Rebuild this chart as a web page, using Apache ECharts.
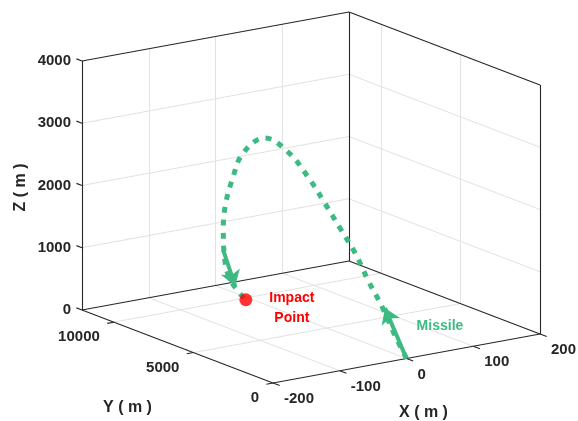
<!DOCTYPE html>
<html><head><meta charset="utf-8">
<script src="https://cdn.jsdelivr.net/npm/echarts@6/dist/echarts.min.js"></script>
<style>html,body{margin:0;padding:0;background:#fff}#c{width:578px;height:421px}</style>
</head><body><div id="c"></div>
<script>
// ---------------- data ----------------
const xTicks = [-200, -100, 0, 100, 200];
const yTicks = [0, 5000, 10000];
const zTicks = [0, 1000, 2000, 3000, 4000];
const xRange = [-200, 200];
const yRange = [0, 12000];
const zRange = [0, 4000];
const trajX = [0, -8, -15, -22, -27, -33, -39, -45, -56, -69, -80, -80, -76, -67, -56, -43, -24, -7];
const trajY = [0, 400, 900, 1500, 2100, 2800, 3500, 4300, 5100, 6000, 6900, 7600, 8200, 8700, 9100, 9400, 9650, 9800];
const trajZ = [0, 354, 770, 1158, 1543, 1888, 2232, 2584, 2929, 3092, 2786, 2283, 1799, 1347, 885, 508, 205, 0];
const arrowFrom = [[0, 0, 0], [-60, 9000, 980]];
const arrowTo = [[-12, 850, 750], [-29, 9550, 290]];
const impactPoint = [-7, 9800, 0];
const axisTitles = { x: 'X ( m )', y: 'Y ( m )', z: 'Z ( m )' };
const impactText = 'Impact\nPoint';
const missileText = 'Missile';

// ---------------- layout (3D box projection) ----------------
const W = 578, H = 421;
const O = [273, 383];           // screen point of (xmin, ymin, zmin)
const VX = [267, -49];          // screen vector for full x range
const VY = [-191, -73];         // screen vector for full y range
const VZ = [0, -249];           // screen vector for full z range
function proj(p) {
  const nx = (p[0] - xRange[0]) / (xRange[1] - xRange[0]);
  const ny = (p[1] - yRange[0]) / (yRange[1] - yRange[0]);
  const nz = (p[2] - zRange[0]) / (zRange[1] - zRange[0]);
  return [O[0] + nx * VX[0] + ny * VY[0] + nz * VZ[0],
          O[1] + nx * VX[1] + ny * VY[1] + nz * VZ[1]];
}
const [x0, x1] = xRange, [y0, y1] = yRange, [z0, z1] = zRange;
const seg = (a, b) => ({ coords: [proj(a), proj(b)] });
const inner = (t, r) => t.filter(v => v > r[0] && v < r[1]);

// grid lines
const gridSegs = [];
inner(xTicks, xRange).forEach(x => { gridSegs.push(seg([x, y0, z0], [x, y1, z0])); gridSegs.push(seg([x, y1, z0], [x, y1, z1])); });
inner(yTicks, yRange).concat(yTicks.filter(v => v === 10000 || v === 5000)).filter((v, i, a) => a.indexOf(v) === i).forEach(y => { gridSegs.push(seg([x0, y, z0], [x1, y, z0])); gridSegs.push(seg([x1, y, z0], [x1, y, z1])); });
inner(zTicks, zRange).forEach(z => { gridSegs.push(seg([x0, y1, z], [x1, y1, z])); gridSegs.push(seg([x1, y1, z], [x1, y0, z])); });

// box edges
const boxSegs = [
  seg([x0, y0, z0], [x1, y0, z0]), seg([x0, y0, z0], [x0, y1, z0]), seg([x0, y1, z0], [x0, y1, z1]),
  seg([x0, y1, z0], [x1, y1, z0]), seg([x1, y1, z0], [x1, y0, z0]), seg([x1, y1, z0], [x1, y1, z1]),
  seg([x1, y0, z0], [x1, y0, z1]), seg([x0, y1, z1], [x1, y1, z1]), seg([x1, y1, z1], [x1, y0, z1])
];
// ticks
const tickSegs = [];
zTicks.forEach(z => tickSegs.push(seg([x0, y1, z], [x0, y1 + 350, z])));
yTicks.forEach(y => tickSegs.push(seg([x0, y, z0], [x0 - 10, y, z0])));
xTicks.forEach(x => tickSegs.push(seg([x, y0, z0], [x, y0 - 420, z0])));

// text labels
const TXT = '#262626', GREEN = '#3dba82', RED = '#ff0000';
const labels = [];
zTicks.forEach(z => labels.push({ p: proj([x0, y1, z]), dx: -11, dy: 0, text: String(z), align: 'right', font: 'bold 15px "Liberation Sans", Arial, sans-serif', color: TXT }));
yTicks.forEach(y => labels.push({ p: proj([x0, y, z0]), dx: -14, dy: 15, text: String(y), align: 'right', font: 'bold 15px "Liberation Sans", Arial, sans-serif', color: TXT }));
xTicks.forEach(x => labels.push({ p: proj([x, y0, z0]), dx: 11, dy: 16, text: String(x), align: 'left', font: 'bold 15px "Liberation Sans", Arial, sans-serif', color: TXT }));
labels.push({ p: proj([x0, y1, (z0 + z1) / 2]), dx: -61, dy: 2, text: axisTitles.z, align: 'center', rot: Math.PI / 2, font: 'bold 16px "Liberation Sans", Arial, sans-serif', color: TXT });
labels.push({ p: proj([x0, (y0 + y1) / 2, z0]), dx: -50, dy: 61, text: axisTitles.y, align: 'center', font: 'bold 16px "Liberation Sans", Arial, sans-serif', color: TXT });
labels.push({ p: proj([0, y0, z0]), dx: 17, dy: 54, text: axisTitles.x, align: 'center', font: 'bold 16px "Liberation Sans", Arial, sans-serif', color: TXT });
labels.push({ p: proj(impactPoint), dx: 46, dy: 8, text: impactText, align: 'center', font: 'bold 14px "Liberation Sans", Arial, sans-serif', color: RED, lh: 20 });
labels.push({ p: proj(arrowTo[0]), dx: 55, dy: 18, text: missileText, align: 'center', font: 'bold 14px "Liberation Sans", Arial, sans-serif', color: GREEN });

const trajPts = trajX.map((x, i) => proj([x, trajY[i], trajZ[i]]));
const arrowSegs = arrowFrom.map((a, i) => seg(a, arrowTo[i]));

const chart = echarts.init(document.getElementById('c'), null, { renderer: 'canvas' });
chart.setOption({
  animation: false,
  backgroundColor: '#fff',
  grid: { left: 0, right: 0, top: 0, bottom: 0 },
  xAxis: { type: 'value', min: 0, max: W, show: false },
  yAxis: { type: 'value', min: 0, max: H, inverse: true, show: false },
  series: [
    { type: 'lines', coordinateSystem: 'cartesian2d', z: 1, silent: true, data: gridSegs, lineStyle: { color: '#e2e2e2', width: 1, opacity: 1 } },
    { type: 'lines', coordinateSystem: 'cartesian2d', z: 2, silent: true, data: boxSegs.concat(tickSegs), lineStyle: { color: '#262626', width: 1.1, opacity: 1 } },
    { type: 'line', z: 3, data: trajPts, smooth: 0.4, showSymbol: false, silent: true,
      lineStyle: { color: GREEN, width: 5, type: [6, 7], cap: 'butt' } },
    { type: 'lines', coordinateSystem: 'cartesian2d', z: 4, silent: true, data: arrowSegs,
      symbol: ['none', 'arrow'], symbolSize: [13, 15],
      lineStyle: { color: GREEN, width: 4, opacity: 1 }, itemStyle: { color: GREEN } },
    { type: 'scatter', z: 5, data: [proj(impactPoint)], symbol: 'circle', symbolSize: 13, silent: true, itemStyle: { color: RED } },
    { type: 'custom', z: 6, silent: true, clip: false, data: labels.map(l => l.p),
      renderItem: (params, api) => {
        const l = labels[params.dataIndex];
        const c = api.coord([api.value(0), api.value(1)]);
        return { type: 'text', x: c[0] + l.dx, y: c[1] + l.dy, rotation: l.rot || 0,
          style: { text: l.text, fill: l.color, font: l.font, align: l.align, verticalAlign: 'middle', lineHeight: l.lh || undefined } };
      } }
  ]
});
</script>
</body></html>
